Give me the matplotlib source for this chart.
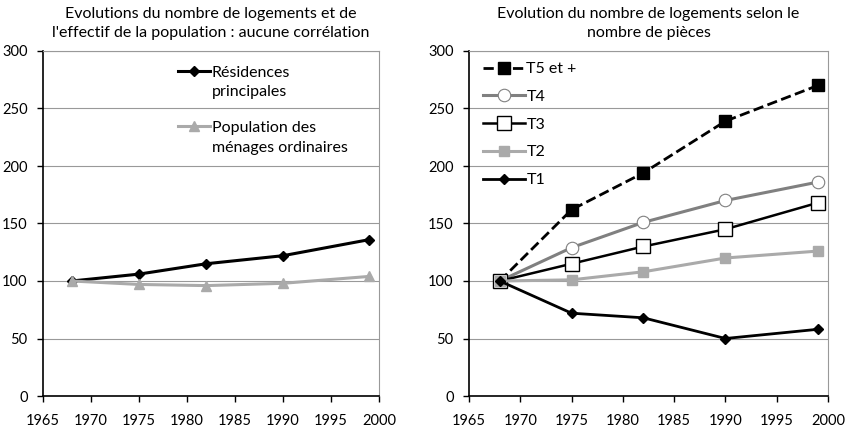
import matplotlib.pyplot as plt
from matplotlib.lines import Line2D

plt.rcParams['font.family'] = ['Lato', 'DejaVu Sans']

years = [1968, 1975, 1982, 1990, 1999]

residences = [100, 106, 115, 122, 136]
population = [100, 97, 96, 98, 104]

t5 = [100, 162, 194, 239, 270]
t4 = [100, 129, 151, 170, 186]
t3 = [100, 115, 130, 145, 168]
t2 = [100, 101, 108, 120, 126]
t1 = [100, 72, 68, 50, 58]

fig = plt.figure(figsize=(8.49, 4.28), dpi=100)
ax1 = fig.add_axes([43 / 849, 32 / 428, 336 / 849, 345 / 428])
ax2 = fig.add_axes([469 / 849, 32 / 428, 359 / 849, 345 / 428])


def style(ax):
    ax.set_xlim(1965, 2000)
    ax.set_ylim(0, 300)
    ax.set_xticks(range(1965, 2001, 5))
    ax.set_yticks(range(0, 301, 50))
    ax.grid(axis='y', color='#999999', linewidth=0.8)
    ax.set_axisbelow(True)
    for s in ['top', 'right']:
        ax.spines[s].set_color('#999999')
        ax.spines[s].set_linewidth(0.8)
    for s in ['left', 'bottom']:
        ax.spines[s].set_color('black')
        ax.spines[s].set_linewidth(1.2)
    ax.tick_params(direction='out', length=4, width=1, labelsize=10.5)
    ax.tick_params(axis='x', pad=9)
    ax.tick_params(axis='y', pad=7)


style(ax1)
l1, = ax1.plot(years, residences, color='black', lw=2.2, marker='D', ms=5)
l2, = ax1.plot(years, population, color='#aaaaaa', lw=2.2, marker='^', ms=7)
ax1.set_title("Evolutions du nombre de logements et de\nl'effectif de la population : aucune corrélation",
              fontsize=11.5, pad=10, linespacing=1.45)
blank = Line2D([], [], color='none')
leg_a = ax1.legend([l1, blank], ['Résidences', 'principales'], loc='upper left',
                   bbox_to_anchor=(0.36, 1.0), frameon=False, fontsize=11.5,
                   handlelength=2.0, handletextpad=0.1, labelspacing=0.35)
ax1.add_artist(leg_a)
ax1.legend([l2, blank], ['Population des', 'ménages ordinaires'], loc='upper left',
           bbox_to_anchor=(0.36, 0.84), frameon=False, fontsize=11.5,
           handlelength=2.0, handletextpad=0.1, labelspacing=0.35)

style(ax2)
ax2.plot(years, t5, color='black', lw=2, ls='--', marker='s', ms=9, label='T5 et +')
ax2.plot(years, t4, color='#808080', lw=2.2, marker='o', ms=9, mfc='white', mec='#808080',
         mew=0.8, label='T4')
ax2.plot(years, t3, color='black', lw=1.8, marker='s', ms=10, mfc='white', mec='black',
         mew=1, label='T3')
ax2.plot(years, t2, color='#aaaaaa', lw=2.2, marker='s', ms=7, label='T2')
ax2.plot(years, t1, color='black', lw=2, marker='D', ms=5, label='T1')
ax2.set_title("Evolution du nombre de logements selon le\nnombre de pièces", fontsize=11.5,
              pad=10, linespacing=1.45)
ax2.legend(loc='upper left', bbox_to_anchor=(0.0, 1.01), frameon=False, fontsize=11.5,
           handlelength=2.6, handletextpad=0.1, labelspacing=0.85)

fig.savefig('out.png', dpi=100)
